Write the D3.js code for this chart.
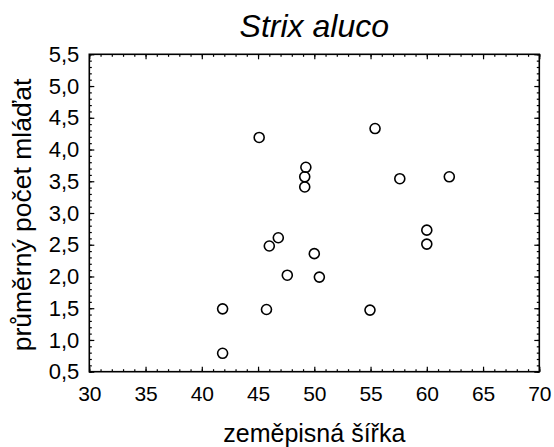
<!DOCTYPE html>
<meta charset="utf-8">
<style>
body { margin: 0; background: #fff; }
text { font-family: "Liberation Sans", Arial, sans-serif; fill: #000; }
</style>
<body>
<script src="https://cdn.jsdelivr.net/npm/d3@7/dist/d3.min.js"></script>
<script>

// data
var latitude = [45.1, 55.4, 49.25, 49.15, 49.15, 57.6, 62.0, 60.0, 60.0, 46.8, 46.0, 50.0, 47.6, 50.45, 41.85, 45.75, 54.95, 41.85];
var youngMean = [4.19, 4.33, 3.72, 3.57, 3.41, 3.54, 3.57, 2.73, 2.51, 2.61, 2.48, 2.36, 2.02, 1.99, 1.49, 1.48, 1.47, 0.79];
var xTicks = [30, 35, 40, 45, 50, 55, 60, 65, 70];
var yTicks = [0.5, 1.0, 1.5, 2.0, 2.5, 3.0, 3.5, 4.0, 4.5, 5.0, 5.5];

var margin = {top: 54.3, right: 15, bottom: 75.3, left: 89.3},
    width = 450,
    height = 317.4;

var svg = d3.select("body").append("svg")
    .attr("width", 554)
    .attr("height", 447);

var g = svg.append("g")
    .attr("transform", "translate(" + margin.left + "," + margin.top + ")");

var x = d3.scaleLinear().domain([30, 70]).range([0, width]);
var y = d3.scaleLinear().domain([0.5, 5.5]).range([height, 0]);

var fmt = function(d) { return d3.format(".1f")(d).replace(".", ","); };
var xMinor = d3.range(30, 70.01, 1);
var yMinor = d3.range(5, 55.01, 1).map(function(d) { return d / 10; });

function style(sel) {
  sel.select(".domain").remove();
  sel.selectAll("line").attr("stroke", "#000").attr("stroke-width", 1.2);
}

// minor ticks, all four sides
g.append("g").attr("transform", "translate(0," + height + ")")
  .call(d3.axisBottom(x).tickValues(xMinor).tickSize(-2.5).tickFormat("")).call(style);
g.append("g")
  .call(d3.axisTop(x).tickValues(xMinor).tickSize(-2.5).tickFormat("")).call(style);
g.append("g")
  .call(d3.axisLeft(y).tickValues(yMinor).tickSize(-2.5).tickFormat("")).call(style);
g.append("g").attr("transform", "translate(" + width + ",0)")
  .call(d3.axisRight(y).tickValues(yMinor).tickSize(-2.5).tickFormat("")).call(style);

// major ticks and labels
var xAxis = g.append("g").attr("transform", "translate(0," + height + ")")
  .call(d3.axisBottom(x).tickValues(xTicks).tickSize(-5).tickPadding(14).tickFormat(d3.format("d")));
xAxis.call(style);
xAxis.selectAll("text").style("font-size", "21px");

g.append("g")
  .call(d3.axisTop(x).tickValues(xTicks).tickSize(-5).tickFormat("")).call(style);

var yAxis = g.append("g")
  .call(d3.axisLeft(y).tickValues(yTicks).tickSize(-5).tickPadding(10).tickFormat(fmt));
yAxis.call(style);
yAxis.selectAll("text").style("font-size", "22px");

g.append("g").attr("transform", "translate(" + width + ",0)")
  .call(d3.axisRight(y).tickValues(yTicks).tickSize(-5).tickFormat("")).call(style);

// frame
g.append("rect")
  .attr("width", width)
  .attr("height", height)
  .attr("fill", "none")
  .attr("stroke", "#000")
  .attr("stroke-width", 1.6);

// points
g.selectAll("circle")
  .data(latitude)
  .enter()
  .append("circle")
  .attr("cx", function(d) { return x(d); })
  .attr("cy", function(d, i) { return y(youngMean[i]); })
  .attr("r", 5)
  .attr("fill", "none")
  .attr("stroke", "#000")
  .attr("stroke-width", 1.6);

// titles
svg.append("text")
  .attr("x", margin.left + width / 2)
  .attr("y", 37)
  .attr("text-anchor", "middle")
  .style("font-size", "32px")
  .style("font-style", "italic")
  .text("Strix aluco");

svg.append("text")
  .attr("x", margin.left + width / 2)
  .attr("y", 442)
  .attr("text-anchor", "middle")
  .style("font-size", "25px")
  .text("zeměpisná šířka");

svg.append("text")
  .attr("transform", "translate(31," + (margin.top + height / 2 + 2) + ") rotate(-90)")
  .attr("text-anchor", "middle")
  .style("font-size", "26.5px")
  .text("průměrný počet mláďat");

</script>
</body>
